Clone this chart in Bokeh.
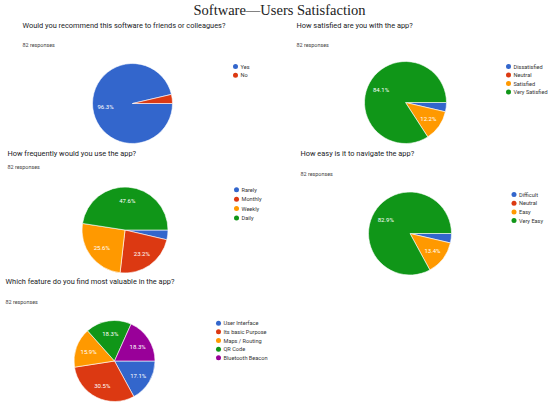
import math
from bokeh.plotting import figure
from bokeh.models import Range1d, ColumnDataSource
from bokeh.core.properties import value
from bokeh.embed import file_html
from bokeh.resources import INLINE

# ---------------- data ----------------
title_text = "Software\u2014Users Satisfaction"
responses_text = "82 responses"

q1_question = "Would you recommend this software to friends or colleagues?"
q1_labels = ["Yes", "No"]
q1_values = [79, 3]

q2_question = "How satisfied are you with the app?"
q2_labels = ["Dissatisfied", "Neutral", "Satisfied", "Very Satisfied"]
q2_values = [3, 0, 10, 69]

q3_question = "How frequently would you use the app?"
q3_labels = ["Rarely", "Monthly", "Weekly", "Daily"]
q3_values = [3, 19, 21, 39]

q4_question = "How easy is it to navigate the app?"
q4_labels = ["Difficult", "Neutral", "Easy", "Very Easy"]
q4_values = [3, 0, 11, 68]

q5_question = "Which feature do you find most valuable in the app?"
q5_labels = ["User Interface", "Its basic Purpose", "Maps / Routing", "QR Code", "Bluetooth Beacon"]
q5_values = [14, 25, 13, 15, 15]

colors = ["#3366cc", "#dc3912", "#ff9900", "#109618", "#990099"]

# ---------------- layout (image pixel coords) ----------------
W, H = 550, 405
p = figure(width=W, height=H, output_backend="svg", toolbar_location=None,
           x_range=Range1d(0, W), y_range=Range1d(405 - H, 405),
           min_border=0, outline_line_color=None)
p.axis.visible = False
p.grid.visible = False
p.background_fill_color = "white"
p.border_fill_color = "white"

def Y(py):
    return 405 - py

SANS = value("Roboto")

p.text(x=[279], y=[Y(9.5)], text=[title_text], text_font=value("Liberation Serif"),
       text_font_size="14.5px", text_align="center", text_baseline="middle", text_color="#222222")

panels = [
    dict(q=q1_question, labels=q1_labels, values=q1_values, qx=22, qy=25, ry=44,
         cx=132, cy=103, r=40, lx=235, ly=66, ldy=8.7),
    dict(q=q2_question, labels=q2_labels, values=q2_values, qx=296, qy=25, ry=44,
         cx=405, cy=102, r=41, lx=508, ly=66, ldy=8.5),
    dict(q=q3_question, labels=q3_labels, values=q3_values, qx=7, qy=153, ry=166,
         cx=124.5, cy=229.5, r=43, lx=236, ly=189.3, ldy=9.4),
    dict(q=q4_question, labels=q4_labels, values=q4_values, qx=300, qy=153, ry=173,
         cx=409.5, cy=233, r=41.5, lx=513.5, ly=194, ldy=8.7),
    dict(q=q5_question, labels=q5_labels, values=q5_values, qx=5, qy=281, ry=301,
         cx=114, cy=360.5, r=40.5, lx=218, ly=322.7, ldy=8.65),
]

for pn in panels:
    # question and response count
    p.text(x=[pn["qx"]], y=[Y(pn["qy"])], text=[pn["q"]], text_font=SANS,
           text_font_size="7.4px", text_align="left", text_baseline="middle", text_color="#202124")
    p.text(x=[pn["qx"]], y=[Y(pn["ry"])], text=[responses_text], text_font=SANS,
           text_font_size="5.4px", text_align="left", text_baseline="middle", text_color="#444444")

    vals = pn["values"]
    total = float(sum(vals))
    cum = 0.0
    starts, ends, cols, lab_x, lab_y, lab_t = [], [], [], [], [], []
    for i, v in enumerate(vals):
        a = cum / total
        b = (cum + v) / total
        cum += v
        if v > 0:
            starts.append(-2 * math.pi * b)
            ends.append(-2 * math.pi * a)
            cols.append(colors[i])
        frac = v / total
        if frac >= 0.05:
            mid = -2 * math.pi * (a + b) / 2
            rr = pn["r"] * 0.68
            lab_x.append(pn["cx"] + rr * math.cos(mid))
            lab_y.append(Y(pn["cy"]) + rr * math.sin(mid))
            lab_t.append(f"{frac * 100:.1f}%")
    src = ColumnDataSource(dict(start=starts, end=ends, color=cols,
                                x=[pn["cx"]] * len(cols), y=[Y(pn["cy"])] * len(cols)))
    p.wedge(x="x", y="y", radius=pn["r"], start_angle="start", end_angle="end",
            direction="anticlock", fill_color="color", line_color="white", line_width=0.6,
            source=src)
    p.text(x=lab_x, y=lab_y, text=lab_t, text_font=SANS, text_font_size="6px",
           text_align="center", text_baseline="middle", text_color="white")

    # legend
    n = len(pn["labels"])
    ly = [Y(pn["ly"] + k * pn["ldy"]) for k in range(n)]
    p.scatter(x=[pn["lx"]] * n, y=ly, size=5, marker="circle",
              fill_color=colors[:n], line_color=None)
    p.text(x=[pn["lx"] + 5] * n, y=ly, text=pn["labels"], text_font=SANS,
           text_font_size="5.6px", text_align="left", text_baseline="middle", text_color="#333333")

open("out.html", "w").write(file_html(p, INLINE))
